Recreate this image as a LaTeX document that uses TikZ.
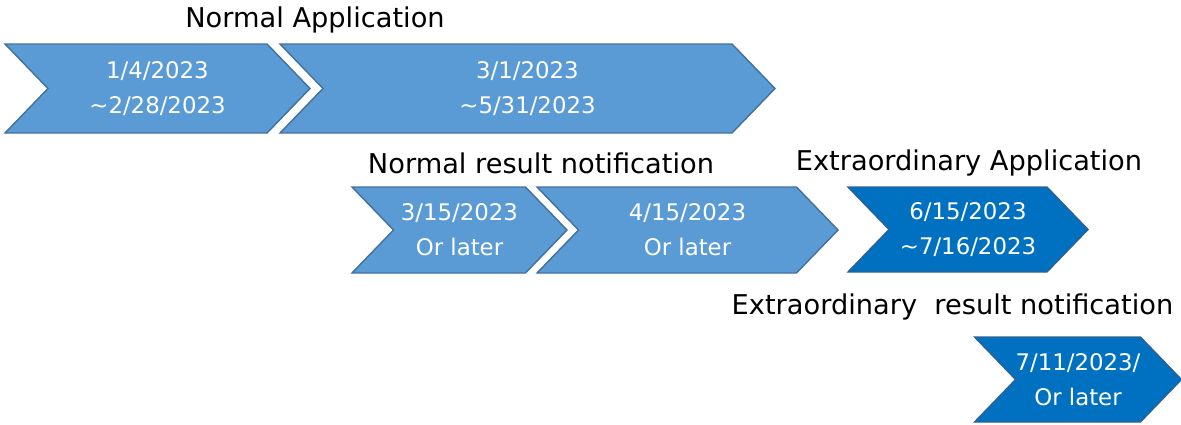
\documentclass[tikz,border=0pt]{standalone}
\usepackage{fontspec}
\setmainfont{DejaVu Sans}
\usetikzlibrary{shapes.symbols}
\definecolor{lightfill}{HTML}{5B9BD5}
\definecolor{lightline}{HTML}{41719C}
\definecolor{darkfill}{HTML}{0070C0}
\definecolor{darkline}{HTML}{2E6193}
\begin{document}
\begin{tikzpicture}[x=0.02cm,y=-0.02cm,
	chev/.style={signal, signal from=west, signal to=east, signal pointer angle=92,
		draw, line width=0.8pt, inner sep=0pt, text=white, align=center,
		font=\fontsize{13}{20}\selectfont},
	normal/.style={chev, fill=lightfill, draw=lightline},
	extra/.style={chev, fill=darkfill, draw=darkline},
	heading/.style={font=\fontsize{15.5}{18}\selectfont}]
	\useasboundingbox (0,0) rectangle (1181,424);
	\node (A1) at (157.5, 88.5)	[normal, minimum width=305*0.02cm, minimum height=89*0.02cm]	{1/4/2023\\\textasciitilde2/28/2023};
	\node (A2) at (527.5, 88.5)	[normal, minimum width=495*0.02cm, minimum height=89*0.02cm]	{3/1/2023\\\textasciitilde5/31/2023};
	\node (R1) at (459.5, 230)	[normal, minimum width=215*0.02cm, minimum height=86*0.02cm]	{3/15/2023\\Or later};
	\node (R2) at (687.5, 230)	[normal, minimum width=301*0.02cm, minimum height=86*0.02cm]	{4/15/2023\\Or later};
	\node (E1) at (968, 229.5)	[extra, minimum width=240*0.02cm, minimum height=85*0.02cm]	{6/15/2023\\\textasciitilde7/16/2023};
	\node (E2) at (1078, 379.5)	[extra, minimum width=199*0.02cm, minimum height=85*0.02cm]	{7/11/2023/\\Or later};
	\node (NA) at (315, 20)	[heading]	{Normal Application};
	\node (NR) at (541, 163)	[heading]	{Normal result notification};
	\node (EA) at (969, 163)	[heading]	{Extraordinary Application};
	\node (ER) at (952.5, 307)	[heading]	{Extraordinary\ \ result notification};
\end{tikzpicture}
\end{document}
